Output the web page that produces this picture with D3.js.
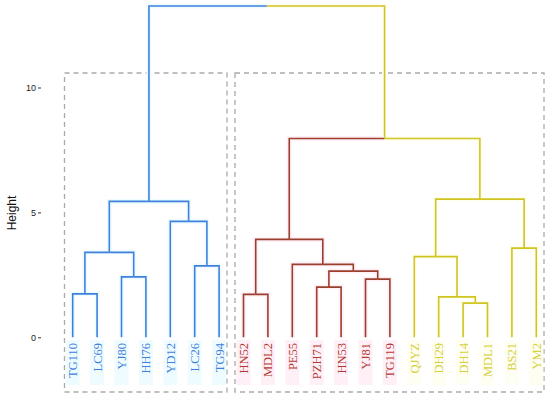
<!DOCTYPE html>
<meta charset="utf-8">
<style>
body { margin: 0; background: #fff; }
.axis text { font-family: "Liberation Sans", Arial, sans-serif; font-size: 9px; fill: #222; }
.axis line { stroke: #333; }
.axis path { display: none; }
.leaf { font-family: "Liberation Serif", "Times New Roman", serif; font-size: 12.5px; }
.box { fill: none; stroke: #aaa; stroke-width: 1.3; stroke-dasharray: 5,4; }
</style>
<body></body>
<script src="https://d3js.org/d3.v7.min.js"></script>
<script>
// leaf order along the x axis and the cluster of each leaf
var leaves = ["TG110","LC69","YJ80","HH76","YD12","LC26","TG94",
              "HN52","MDL2","PE55","PZH71","HN53","YJ81","TG119",
              "QJYZ","DH29","DH14","MDL1","BS21","YM2"];
var groups = ["A","A","A","A","A","A","A",
              "B","B","B","B","B","B","B",
              "C","C","C","C","C","C"];
// merges like hclust: leaf names or "m<k>" for an earlier merge, then height
var merges = [
  ["TG110","LC69",1.74],
  ["YJ80","HH76",2.42],
  ["m1","m2",3.40],
  ["LC26","TG94",2.86],
  ["YD12","m4",4.64],
  ["m3","m5",5.44],
  ["HN52","MDL2",1.72],
  ["PZH71","HN53",2.01],
  ["YJ81","TG119",2.33],
  ["m8","m9",2.65],
  ["PE55","m10",2.92],
  ["m7","m11",3.92],
  ["DH14","MDL1",1.37],
  ["DH29","m13",1.62],
  ["QJYZ","m14",3.23],
  ["BS21","YM2",3.57],
  ["m15","m16",5.53],
  ["m12","m17",7.96],
  ["m6","m18",13.26]
];
var yTicks = [0, 5, 10];

var lineColor = {A: "#3f80dd", B: "#9a3f2c", C: "#d0c421"};
var textColor = {A: "#3f80dd", B: "#b33a33", C: "#d6cf3a"};
var glowColor = {A: "#effcff", B: "#fff0f7", C: "#fffef2"};

var width = 550, height = 398;
var x = d3.scaleLinear().domain([0, leaves.length - 1]).range([72.7, 536.3]);
var y = d3.scaleLinear().domain([0, 10]).range([337.3, 87.5]);

var svg = d3.select("body").append("svg")
    .attr("width", width)
    .attr("height", height);

// position of each node
var nodes = {};
leaves.forEach(function(d, i) { nodes[d] = {x: x(i), h: 0, g: groups[i]}; });
merges.forEach(function(m, i) {
  var a = nodes[m[0]], b = nodes[m[1]];
  nodes["m" + (i + 1)] = {x: (a.x + b.x) / 2, h: m[2], g: a.g === b.g ? a.g : b.g};
});

// segments: parent -> child, coloured by the child
var segs = [];
merges.forEach(function(m, i) {
  var p = nodes["m" + (i + 1)];
  [m[0], m[1]].forEach(function(c) {
    var n = nodes[c];
    segs.push({g: n.g, d: "M" + p.x + "," + y(p.h) + "H" + n.x + "V" + y(n.h)});
  });
});

// dashed cluster boxes
svg.append("rect").attr("class", "box")
    .attr("x", 64.5).attr("y", 73).attr("width", 162.5).attr("height", 319);
svg.append("rect").attr("class", "box")
    .attr("x", 235).attr("y", 73).attr("width", 309).attr("height", 319);

// label backgrounds
svg.selectAll(".lbg").data(leaves).enter().append("rect")
    .attr("x", function(d, i) { return x(i) - 7; })
    .attr("y", 340)
    .attr("width", 14)
    .attr("height", 45)
    .attr("fill", function(d, i) { return glowColor[groups[i]]; });

// soft glow under branches
svg.selectAll(".glow").data(segs).enter().append("path")
    .attr("d", function(d) { return d.d; })
    .attr("fill", "none")
    .attr("stroke", function(d) { return glowColor[d.g]; })
    .attr("stroke-width", 5);

svg.selectAll(".seg").data(segs).enter().append("path")
    .attr("d", function(d) { return d.d; })
    .attr("fill", "none")
    .attr("stroke", function(d) { return lineColor[d.g]; })
    .attr("stroke-width", 1.6);

// leaf labels, reading upwards
svg.selectAll(".leaf").data(leaves).enter().append("text")
    .attr("class", "leaf")
    .attr("transform", function(d, i) { return "translate(" + (x(i) + 4.5) + ",343) rotate(-90)"; })
    .attr("text-anchor", "end")
    .attr("fill", function(d, i) { return textColor[groups[i]]; })
    .text(function(d) { return d; });

svg.append("g")
    .attr("class", "axis")
    .attr("transform", "translate(41,0)")
    .call(d3.axisLeft(y).tickValues(yTicks).tickSize(3).tickPadding(2));

svg.append("text")
    .attr("transform", "translate(16,213) rotate(-90)")
    .attr("text-anchor", "middle")
    .style("font-family", "Liberation Sans, Arial, sans-serif")
    .style("font-size", "12px")
    .attr("fill", "#111")
    .text("Height");
</script>
